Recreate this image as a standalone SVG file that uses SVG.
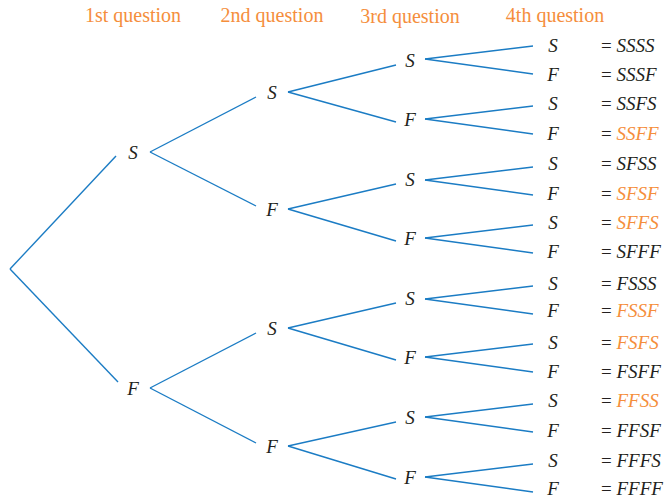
<svg xmlns="http://www.w3.org/2000/svg" width="667" height="501" viewBox="0 0 667 501">
<style>
text{font-family:'Liberation Serif','DejaVu Serif',serif}
.hd{font-size:20px;fill:#F58E3C;text-anchor:middle}
.n{font-style:italic;font-size:19px;fill:#231F20;text-anchor:middle}
.r{font-size:19px;fill:#231F20}
.i{font-style:italic}
.o{fill:#F58E3C}
.c line{stroke:#1B7CC4;stroke-width:1.4;fill:none}
</style>
<rect width="667" height="501" fill="#fff"/>
<g id="headers">
<text class="hd" x="133" y="22">1st question</text>
<text class="hd" x="272" y="22">2nd question</text>
<text class="hd" x="410" y="23">3rd question</text>
<text class="hd" x="555" y="22">4th question</text>
</g>
<g class="c" id="connectors">
<line x1="10" y1="269" x2="116" y2="156"/>
<line x1="10" y1="269" x2="118" y2="382"/>
<line x1="150" y1="152" x2="256" y2="97"/>
<line x1="150" y1="152" x2="256" y2="206"/>
<line x1="150" y1="388" x2="256" y2="333"/>
<line x1="150" y1="388" x2="256" y2="443"/>
<line x1="288" y1="92" x2="396" y2="65"/>
<line x1="288" y1="92" x2="396" y2="122"/>
<line x1="288" y1="209" x2="396" y2="184"/>
<line x1="288" y1="209" x2="396" y2="241"/>
<line x1="288" y1="328" x2="396" y2="303"/>
<line x1="288" y1="328" x2="396" y2="360"/>
<line x1="288" y1="446" x2="396" y2="422"/>
<line x1="288" y1="446" x2="396" y2="479"/>
<line x1="425" y1="59" x2="533" y2="46"/>
<line x1="425" y1="59" x2="533" y2="74"/>
<line x1="425" y1="119" x2="533" y2="106"/>
<line x1="425" y1="119" x2="533" y2="134"/>
<line x1="425" y1="180" x2="533" y2="167"/>
<line x1="425" y1="180" x2="533" y2="195"/>
<line x1="425" y1="238" x2="533" y2="225"/>
<line x1="425" y1="238" x2="533" y2="253"/>
<line x1="425" y1="299" x2="533" y2="286"/>
<line x1="425" y1="299" x2="533" y2="314"/>
<line x1="425" y1="357" x2="533" y2="344"/>
<line x1="425" y1="357" x2="533" y2="372"/>
<line x1="425" y1="417" x2="533" y2="404"/>
<line x1="425" y1="417" x2="533" y2="432"/>
<line x1="425" y1="477" x2="533" y2="464"/>
<line x1="425" y1="477" x2="533" y2="492"/>
</g>
<g id="l1">
<g id="n1S"><text class="n" x="133" y="159">S</text></g>
<g id="n1F"><text class="n" x="133" y="395">F</text></g>
</g>
<g id="l2">
<g id="n2SS"><text class="n" x="272" y="99">S</text></g>
<g id="n2SF"><text class="n" x="272" y="216">F</text></g>
<g id="n2FS"><text class="n" x="272" y="335">S</text></g>
<g id="n2FF"><text class="n" x="272" y="453">F</text></g>
</g>
<g id="l3">
<g id="n3SSS"><text class="n" x="410" y="67">S</text></g>
<g id="n3SSF"><text class="n" x="410" y="126">F</text></g>
<g id="n3SFS"><text class="n" x="410" y="186">S</text></g>
<g id="n3SFF"><text class="n" x="410" y="245">F</text></g>
<g id="n3FSS"><text class="n" x="410" y="305">S</text></g>
<g id="n3FSF"><text class="n" x="410" y="364">F</text></g>
<g id="n3FFS"><text class="n" x="410" y="424">S</text></g>
<g id="n3FFF"><text class="n" x="410" y="484">F</text></g>
</g>
<g id="l4">
<g id="o1"><text class="n" x="553" y="52">S</text><text class="r" x="601" y="52">= <tspan class="i">SSSS</tspan></text></g>
<g id="o2"><text class="n" x="553" y="81">F</text><text class="r" x="601" y="81">= <tspan class="i">SSSF</tspan></text></g>
<g id="o3"><text class="n" x="553" y="110">S</text><text class="r" x="601" y="110">= <tspan class="i">SSFS</tspan></text></g>
<g id="o4"><text class="n" x="553" y="140">F</text><text class="r" x="601" y="140">= <tspan class="i o">SSFF</tspan></text></g>
<g id="o5"><text class="n" x="553" y="170">S</text><text class="r" x="601" y="170">= <tspan class="i">SFSS</tspan></text></g>
<g id="o6"><text class="n" x="553" y="200">F</text><text class="r" x="601" y="200">= <tspan class="i o">SFSF</tspan></text></g>
<g id="o7"><text class="n" x="553" y="229">S</text><text class="r" x="601" y="229">= <tspan class="i o">SFFS</tspan></text></g>
<g id="o8"><text class="n" x="553" y="258">F</text><text class="r" x="601" y="258">= <tspan class="i">SFFF</tspan></text></g>
<g id="o9"><text class="n" x="553" y="290">S</text><text class="r" x="601" y="290">= <tspan class="i">FSSS</tspan></text></g>
<g id="o10"><text class="n" x="553" y="317">F</text><text class="r" x="601" y="317">= <tspan class="i o">FSSF</tspan></text></g>
<g id="o11"><text class="n" x="553" y="349">S</text><text class="r" x="601" y="349">= <tspan class="i o">FSFS</tspan></text></g>
<g id="o12"><text class="n" x="553" y="378">F</text><text class="r" x="601" y="378">= <tspan class="i">FSFF</tspan></text></g>
<g id="o13"><text class="n" x="553" y="407">S</text><text class="r" x="601" y="407">= <tspan class="i o">FFSS</tspan></text></g>
<g id="o14"><text class="n" x="553" y="437">F</text><text class="r" x="601" y="437">= <tspan class="i">FFSF</tspan></text></g>
<g id="o15"><text class="n" x="553" y="467">S</text><text class="r" x="601" y="467">= <tspan class="i">FFFS</tspan></text></g>
<g id="o16"><text class="n" x="553" y="495">F</text><text class="r" x="601" y="495">= <tspan class="i">FFFF</tspan></text></g>
</g>
</svg>
